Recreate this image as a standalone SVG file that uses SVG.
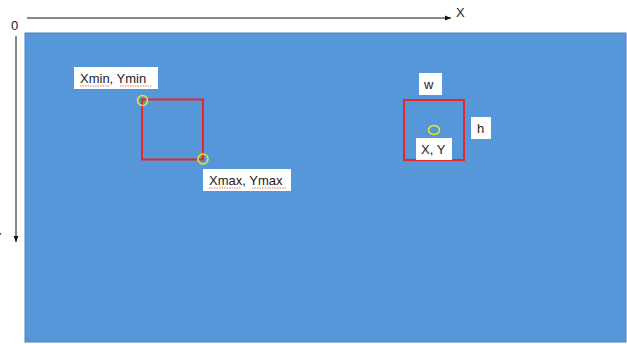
<svg xmlns="http://www.w3.org/2000/svg" width="627" height="344" viewBox="0 0 627 344">
<style>
.lbl{fill:#ffffff;stroke:none}
.t{font-family:"Liberation Sans",Arial,sans-serif;font-size:13px;fill:#222}
.box{fill:none;stroke:#e8262a;stroke-width:2}
.pt{fill:none;stroke:#e8e81c;stroke-width:1.6}
.sq{fill:none;stroke:#e05050;stroke-width:0.8;stroke-dasharray:1.5 1}
.ax{stroke:#111;stroke-width:1;fill:none}
</style>
<defs>
<marker id="ah" viewBox="0 0 10 10" refX="10" refY="5" markerWidth="6" markerHeight="6" orient="auto" markerUnits="userSpaceOnUse">
<path d="M0,1 L10,5 L0,9 Z" fill="#111"/>
</marker>
</defs>
<rect width="627" height="344" fill="#ffffff"/>
<g id="canvas">
<rect x="25" y="33" width="601" height="309" fill="#5597d8" stroke="#4a85bf" stroke-width="1"/>
</g>
<g id="connectors">
<line class="ax" x1="27" y1="18" x2="451" y2="18" marker-end="url(#ah)"/>
<line class="ax" x1="16" y1="36" x2="16" y2="242" stroke="#444" marker-end="url(#ah)"/>
</g>
<g id="axis-labels">
<text class="t" x="456" y="17">X</text>
<text class="t" x="11" y="30">0</text>
<text class="t" x="-7" y="242">Y</text>
</g>
<g id="bbox-minmax">
<rect class="box" x="142" y="99.5" width="61" height="60"/>
<circle class="pt" cx="142.5" cy="100.5" r="5"/>
<circle class="pt" cx="203" cy="159" r="5"/>
</g>
<g id="label-min">
<rect class="lbl" x="74" y="67" width="84" height="22"/>
<text class="t" x="80" y="83">Xmin, Ymin</text>
<path class="sq" d="M80,86 H109 M120,86 H152"/>
</g>
<g id="label-max">
<rect class="lbl" x="203" y="169" width="88" height="22"/>
<text class="t" x="209" y="185">Xmax, Ymax</text>
<path class="sq" d="M209,188 H241 M252,188 H286"/>
</g>
<g id="bbox-center">
<rect class="box" x="404" y="100" width="60" height="60"/>
<ellipse class="pt" cx="434" cy="130" rx="5.5" ry="4.5"/>
</g>
<g id="label-w">
<rect class="lbl" x="419" y="73" width="23" height="22"/>
<text class="t" x="424" y="89">w</text>
</g>
<g id="label-h">
<rect class="lbl" x="471" y="117" width="20" height="22"/>
<text class="t" x="477" y="133">h</text>
</g>
<g id="label-xy">
<rect class="lbl" x="416" y="138" width="36" height="22"/>
<text class="t" x="421" y="154">X, Y</text>
</g>
</svg>
